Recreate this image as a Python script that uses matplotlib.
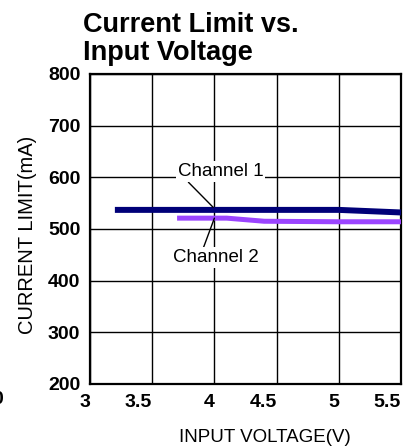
import matplotlib
matplotlib.use("Agg")
import matplotlib.pyplot as plt

plt.rcParams['font.family'] = ['Liberation Sans', 'DejaVu Sans']

# data
volt_ticks = [3, 3.5, 4, 4.5, 5, 5.5]
volt_labels = ["3", "3.5", "4", "4.5", "5", "5.5"]
limit_ticks = [200, 300, 400, 500, 600, 700, 800]

ch1_v = [3.2, 3.5, 4.0, 4.5, 5.0, 5.5]
ch1_ma = [537, 537, 537, 537, 537, 532]
ch2_v = [3.7, 4.0, 4.1, 4.4, 5.0, 5.5]
ch2_ma = [521, 521, 521, 515, 514, 514]

fig = plt.figure(figsize=(4.06, 4.47), dpi=100)
ax = fig.add_axes([90/406, 1-384/447, 311/406, 310/447])

ax.plot(ch1_v, ch1_ma, color="#000078", lw=4.3, solid_capstyle="butt", zorder=3, clip_on=False)
ax.plot(ch2_v, ch2_ma, color="#9B45FF", lw=3.6, solid_capstyle="butt", zorder=3, clip_on=False)

ax.set_xlim(3, 5.5)
ax.set_ylim(200, 800)
ax.set_xticks(volt_ticks)
ax.set_xticklabels(volt_labels, ha="right")
ax.set_yticks(limit_ticks)
ax.grid(True, color="black", lw=1.0)
ax.set_axisbelow(True)
ax.tick_params(length=0, labelsize=14, pad=7)
for lab in ax.get_xticklabels() + ax.get_yticklabels():
    lab.set_fontweight("bold")
for s in ax.spines.values():
    s.set_linewidth(1.6)

# labels on the lines
box = dict(facecolor="white", edgecolor="none", pad=1.5)
ax.annotate("Channel 1", xy=(3.99, 542), xytext=(4.05, 611), ha="center", va="center",
            fontsize=13.5, bbox=box, zorder=4,
            arrowprops=dict(arrowstyle="-", color="black", lw=1.0, shrinkA=0, shrinkB=0,
                            relpos=(0.1, 0.0)))
ax.annotate("Channel 2", xy=(4.0, 521), xytext=(4.01, 444), ha="center", va="center",
            fontsize=13.5, bbox=box, zorder=4,
            arrowprops=dict(arrowstyle="-", color="black", lw=1.0, shrinkA=0, shrinkB=0,
                            relpos=(0.35, 1.0)))

fig.text(83/406, 1-32/447, "Current Limit vs.", fontsize=19.5, fontweight="bold", ha="left", va="baseline")
fig.text(83/406, 1-60/447, "Input Voltage", fontsize=19.5, fontweight="bold", ha="left", va="baseline")

fig.text(28/406, 1-235/447, "CURRENT LIMIT(mA)", rotation=90, fontsize=14.5, ha="center", va="center")
fig.text(265/406, 1-437/447, "INPUT VOLTAGE(V)", fontsize=13.5, ha="center", va="center")

# clipped character at the left edge of the source image
fig.text(3/406, 1-400/447, "0", fontsize=14, fontweight="bold", ha="right", va="center")

fig.savefig("out.png", dpi=100)
